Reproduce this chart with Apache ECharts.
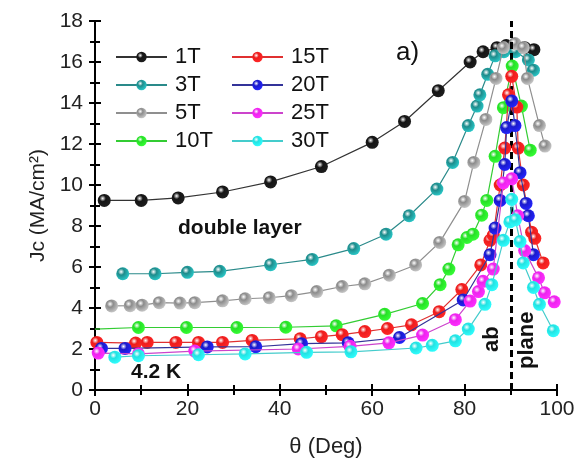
<!DOCTYPE html>
<html>
<head>
<meta charset="utf-8">
<script src="https://cdn.jsdelivr.net/npm/echarts@6/dist/echarts.min.js"></script>
<style>
  html, body { margin: 0; padding: 0; background: #fff; }
  #chart { width: 579px; height: 463px; }
</style>
</head>
<body>
<div id="chart"></div>
<script>
// field labels and colours
const names = ['1T', '3T', '5T', '10T', '15T', '20T', '25T', '30T'];
const ballColors = ['#151515', '#1e8c8c', '#8c8c8c', '#26e026', '#ee1c1c', '#1a1acc', '#ee22ee', '#22e2e2'];
const lineColors = ['#333333', '#2a8a8a', '#8f8f8f', '#33cc33', '#e03030', '#333399', '#cc44cc', '#44cccc'];

// Jc vs theta, [deg, MA/cm2]
const jc1T = [[2, 9.25], [10, 9.25], [18, 9.37], [27.6, 9.66], [38, 10.15], [49, 10.9], [60, 12.08], [67, 13.1], [74.3, 14.6], [81.2, 16.0], [84, 16.5], [87, 16.7], [89, 16.8], [91, 16.8], [93, 16.7], [95, 16.6]];
const jc3T = [[6, 5.67], [13, 5.67], [20, 5.74], [27, 5.79], [38, 6.11], [47, 6.37], [56, 6.9], [63, 7.6], [68, 8.5], [74, 9.8], [77.4, 11.1], [80.8, 12.9], [82.7, 13.85], [83.3, 14.4], [85, 15.4], [86.6, 16.3], [88.5, 16.5], [91, 16.5], [93.8, 16.1], [94.9, 15.6]];
const jc5T = [[3.6, 4.1], [7.6, 4.11], [10.2, 4.14], [13.9, 4.26], [18.4, 4.24], [21.6, 4.26], [27.6, 4.35], [32.5, 4.45], [37.7, 4.5], [42.5, 4.6], [48, 4.8], [53.5, 5.05], [58.4, 5.18], [63.7, 5.6], [69.4, 6.1], [74.6, 7.2], [80, 9.2], [82, 11.1], [84.6, 13.2], [86.8, 15.2], [88.4, 16.7], [90.9, 16.9], [92.7, 16.7], [93.6, 15.2], [96.2, 12.9], [97.4, 11.9]];
const jc10T = [[0, 2.97], [9.4, 3.05], [19.8, 3.05], [30.7, 3.05], [41.3, 3.06], [52.2, 3.13], [62.7, 3.69], [70.9, 4.22], [74.7, 5.14], [76.6, 5.9], [78.6, 7.08], [80.5, 7.44], [81.8, 7.6], [83.7, 8.53], [84.8, 9.25], [86.6, 11.4], [88.4, 13.77], [90.3, 15.8], [92.3, 13.85], [94.2, 11.7]];
const jc15T = [[0.4, 2.32], [8.8, 2.29], [11.3, 2.32], [17.5, 2.32], [22.4, 2.32], [27.6, 2.32], [34, 2.42], [44.4, 2.5], [49, 2.6], [53.5, 2.7], [58.4, 2.85], [63.3, 3.0], [68.5, 3.18], [74.5, 3.82], [79.4, 4.9], [83.5, 6.1], [85.5, 7.3], [86.2, 7.55], [87.7, 10.0], [88.7, 11.8], [89.5, 14.4], [90.2, 15.3], [91.3, 13.8], [91.6, 11.8], [92.7, 10.0], [94.5, 7.7], [95.2, 7.4], [97, 6.2]];
const jc20T = [[1.4, 2.03], [6.5, 2.03], [24.3, 2.1], [34.8, 2.11], [44.7, 2.26], [54.8, 2.3], [65.9, 2.56], [79.7, 4.39], [85.5, 6.6], [86.6, 7.9], [87.7, 9.25], [88.7, 11.0], [89.1, 12.8], [90.2, 14.1], [90.9, 12.9], [92, 10.6], [93.3, 9.1], [93.8, 8.5], [94.9, 6.6]];
const jc25T = [[0.7, 1.8], [9.4, 1.76], [21.6, 1.9], [44, 2.0], [55.2, 2.13], [63.6, 2.3], [70.9, 2.68], [78, 3.43], [81.2, 4.34], [83, 4.8], [84, 5.3], [86.2, 5.9], [88.4, 10.1], [90.2, 10.3], [91.5, 8.5], [93, 6.8], [96, 5.47], [97.3, 4.74], [99.4, 4.3]];
const jc30T = [[4.3, 1.6], [9.4, 1.67], [22.4, 1.72], [32.5, 1.76], [45.8, 1.84], [55.4, 1.86], [69.5, 2.05], [73, 2.18], [78, 2.4], [80.8, 2.97], [84.4, 4.18], [85.9, 5.14], [88.4, 7.3], [89.8, 8.2], [90.2, 9.3], [91, 8.3], [92, 7.24], [92.7, 6.2], [94.9, 5.0], [96.2, 4.18], [99.2, 2.89]];
const allData = [jc1T, jc3T, jc5T, jc10T, jc15T, jc20T, jc25T, jc30T];

const xTicks = [0, 20, 40, 60, 80, 100];
const yTicks = [0, 2, 4, 6, 8, 10, 12, 14, 16, 18];
const abPlaneAngle = 90;

const font = 'Liberation Sans, Arial, sans-serif';

function ball(c) {
  return {
    type: 'radial', x: 0.38, y: 0.35, r: 0.7,
    colorStops: [
      { offset: 0, color: '#ffffff' },
      { offset: 0.35, color: c },
      { offset: 1, color: echarts.color.lift(c, -0.45) }
    ]
  };
}

const chart = echarts.init(document.getElementById('chart'), null, { renderer: 'canvas' });

const series = names.map((n, i) => {
  const s = {
    name: n,
    type: 'line',
    data: allData[i].map((p, j) => (i === 3 && j === 0) ? { value: p, symbol: 'none' } : p),
    symbol: 'circle',
    symbolSize: 13,
    showAllSymbol: true,
    clip: true,
    lineStyle: { color: lineColors[i], width: 1.2 },
    itemStyle: { color: ball(ballColors[i]), borderWidth: 0 },
    emphasis: { disabled: true },
    z: 2 + i
  };
  return s;
});

// dashed ab-plane marker
series.push({
  type: 'line',
  data: [],
  z: 20,
  markLine: {
    silent: true,
    symbol: 'none',
    label: { show: false },
    lineStyle: { color: '#000', type: [7, 4], width: 3 },
    data: [{ xAxis: abPlaneAngle }]
  }
});

const legendCommon = {
  orient: 'vertical',
  itemWidth: 51,
  itemHeight: 13,
  itemGap: 6,
  top: 41,
  textStyle: { fontSize: 22, fontFamily: font, color: '#111', padding: [0, 0, 0, 3] },
  selectedMode: false
};

const option = {
  animation: false,
  backgroundColor: '#fff',
  grid: { left: 95, right: 22, top: 21, bottom: 70 },
  legend: [
    Object.assign({ left: 110, data: names.slice(0, 4) }, legendCommon),
    Object.assign({ left: 226, data: names.slice(4) }, legendCommon)
  ],
  xAxis: [
    {
      type: 'value', min: xTicks[0], max: xTicks[xTicks.length - 1], interval: 20,
      name: 'θ (Deg)', nameLocation: 'middle', nameGap: 46,
      nameTextStyle: { fontSize: 22, fontFamily: font, color: '#222' },
      axisLine: { lineStyle: { color: '#000', width: 2 } },
      axisTick: { inside: true, length: 6, lineStyle: { width: 2, color: '#000' } },
      minorTick: { show: true, splitNumber: 2, length: 5, lineStyle: { width: 2, color: '#000' } },
      axisLabel: { fontSize: 21, fontFamily: font, color: '#222', margin: 9 },
      splitLine: { show: false }
    },
    {
      type: 'value', position: 'top', min: 0, max: 100, interval: 20,
      axisLine: { show: true, lineStyle: { color: '#000', width: 2 } },
      axisTick: { inside: true, length: 6, lineStyle: { width: 2, color: '#000' } },
      minorTick: { show: true, splitNumber: 2, length: 5, lineStyle: { width: 2, color: '#000' } },
      axisLabel: { show: false },
      splitLine: { show: false }
    },
    {
      type: 'value', position: 'bottom', min: 0, max: 100, interval: 20,
      axisLine: { show: false },
      axisTick: { show: true, length: 5, lineStyle: { width: 2, color: '#000' } },
      axisLabel: { show: false },
      splitLine: { show: false }
    }
  ],
  yAxis: [
    {
      type: 'value', min: yTicks[0], max: yTicks[yTicks.length - 1], interval: 2,
      name: 'Jc (MA/cm²)', nameLocation: 'middle', nameGap: 46,
      nameTextStyle: { fontSize: 21, fontFamily: font, color: '#222' },
      axisLine: { show: true, lineStyle: { color: '#000', width: 2 } },
      axisTick: { inside: true, length: 6, lineStyle: { width: 2, color: '#000' } },
      minorTick: { show: true, splitNumber: 2, length: 5, lineStyle: { width: 2, color: '#000' } },
      axisLabel: { fontSize: 21, fontFamily: font, color: '#222', margin: 12 },
      splitLine: { show: false }
    },
    {
      type: 'value', position: 'right', min: 0, max: 18, interval: 2,
      axisLine: { show: true, lineStyle: { color: '#000', width: 2 } },
      axisTick: { inside: true, length: 6, lineStyle: { width: 2, color: '#000' } },
      minorTick: { show: true, splitNumber: 2, length: 5, lineStyle: { width: 2, color: '#000' } },
      axisLabel: { show: false },
      splitLine: { show: false }
    },
    {
      type: 'value', position: 'left', min: 0, max: 18, interval: 2,
      axisLine: { show: false },
      axisTick: { show: true, length: 5, lineStyle: { width: 2, color: '#000' } },
      axisLabel: { show: false },
      splitLine: { show: false }
    }
  ],
  graphic: [
    { type: 'text', left: 396, top: 40, style: { text: 'a)', font: '26px ' + font, fill: '#111' } },
    { type: 'text', left: 178, top: 218, style: { text: 'double layer', font: 'bold 21px ' + font, fill: '#111' } },
    { type: 'text', left: 131, top: 362, style: { text: '4.2 K', font: 'bold 21px ' + font, fill: '#111' } },
    { type: 'text', x: 481, y: 352, rotation: Math.PI / 2, style: { text: 'ab', font: 'bold 22px ' + font, fill: '#111' } },
    { type: 'text', x: 516, y: 369, rotation: Math.PI / 2, style: { text: 'plane', font: 'bold 22px ' + font, fill: '#111' } }
  ],
  series
};

chart.setOption(option);
</script>
</body>
</html>
